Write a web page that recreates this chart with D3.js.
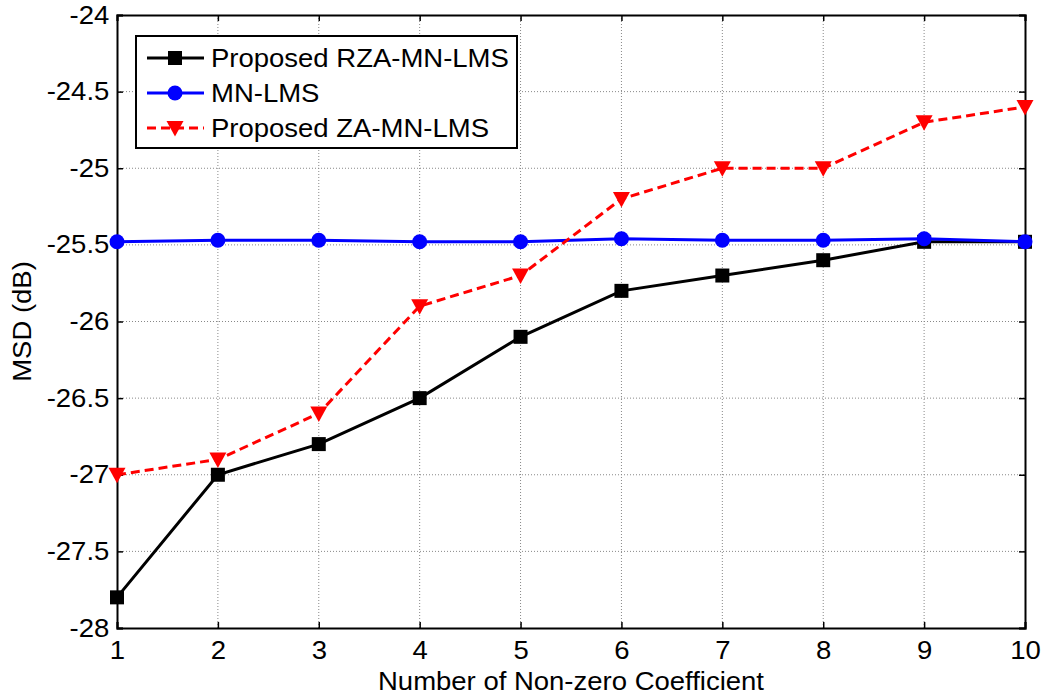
<!DOCTYPE html>
<html>
<head>
<meta charset="utf-8">
<script src="https://cdn.jsdelivr.net/npm/d3@7"></script>
<style>
  html, body { margin: 0; padding: 0; background: #fff; }
  svg { display: block; }
  text { font-family: "Liberation Sans", Arial, sans-serif; fill: #000; }
</style>
</head>
<body>
<svg id="chart" width="1050" height="698"></svg>
<script>
// Number of non-zero coefficients (x axis)
const coeffs = [1, 2, 3, 4, 5, 6, 7, 8, 9, 10];
// MSD (dB) for each algorithm
const rzaMnLms = [-27.8, -27.0, -26.8, -26.5, -26.1, -25.8, -25.7, -25.6, -25.48, -25.48];
const mnLms    = [-25.48, -25.47, -25.47, -25.48, -25.48, -25.46, -25.47, -25.47, -25.46, -25.48];
const zaMnLms  = [-27.0, -26.9, -26.6, -25.9, -25.7, -25.2, -25.0, -25.0, -24.7, -24.6];
// Tick values
const xTicks = [1, 2, 3, 4, 5, 6, 7, 8, 9, 10];
const yTicks = [-28, -27.5, -27, -26.5, -26, -25.5, -25, -24.5, -24];
const seriesNames = ["Proposed RZA-MN-LMS", "MN-LMS", "Proposed ZA-MN-LMS"];

const svg = d3.select("#chart");
const m = { left: 117, right: 1025, top: 15, bottom: 628 };
const FS = 25;          // font size
const SX = 1.1;         // horizontal text stretch

const x = d3.scaleLinear().domain([1, 10]).range([m.left, m.right]);
const y = d3.scaleLinear().domain([-28, -24]).range([m.bottom, m.top]);

// Grid (dotted)
const grid = svg.append("g");
grid.selectAll("line.vx").data(xTicks.slice(1, -1)).join("line")
  .attr("x1", d => x(d)).attr("x2", d => x(d))
  .attr("y1", m.top).attr("y2", m.bottom)
  .attr("stroke", "#888").attr("stroke-width", 1).attr("stroke-dasharray", "1,2");
grid.selectAll("line.hy").data(yTicks.slice(1, -1)).join("line")
  .attr("x1", m.left).attr("x2", m.right)
  .attr("y1", d => y(d)).attr("y2", d => y(d))
  .attr("stroke", "#888").attr("stroke-width", 1).attr("stroke-dasharray", "1,2");

// Axes with inward ticks
const tickLen = 6;
const xAxisB = d3.axisBottom(x).tickValues(xTicks).tickSize(-tickLen).tickPadding(13).tickFormat(d3.format("d"));
const xAxisT = d3.axisTop(x).tickValues(xTicks).tickSize(-tickLen).tickFormat("");
const yAxisL = d3.axisLeft(y).tickValues(yTicks).tickSize(-tickLen).tickPadding(7).tickFormat(d => String(d));
const yAxisR = d3.axisRight(y).tickValues(yTicks).tickSize(-tickLen).tickFormat("");

function styleAxis(g) {
  g.select(".domain").attr("stroke", "#000").attr("stroke-width", 2);
  g.selectAll(".tick line").attr("stroke", "#000").attr("stroke-width", 1.5);
  g.selectAll(".tick text").attr("font-size", FS)
    .attr("font-family", "Liberation Sans, Arial, sans-serif").attr("fill", "#000")
    .attr("transform", `scale(${SX},1)`);
}
svg.append("g").attr("transform", `translate(0,${m.bottom})`).call(xAxisB).call(styleAxis);
svg.append("g").attr("transform", `translate(0,${m.top})`).call(xAxisT).call(styleAxis);
svg.append("g").attr("transform", `translate(${m.left},0)`).call(yAxisL).call(styleAxis);
svg.append("g").attr("transform", `translate(${m.right},0)`).call(yAxisR).call(styleAxis);

// Axis titles
svg.append("text").attr("transform", `translate(${(m.left + m.right) / 2},690) scale(${SX},1)`)
  .attr("text-anchor", "middle").attr("font-size", FS).text("Number of Non-zero Coefficient");
svg.append("text").attr("transform", `translate(31,${(m.top + m.bottom) / 2}) rotate(-90) scale(${SX},1)`)
  .attr("text-anchor", "middle").attr("font-size", FS).text("MSD (dB)");

const line = d3.line().x((d, i) => x(coeffs[i])).y(d => y(d));
const plot = svg.append("g");

const series = [
  { name: seriesNames[0], values: rzaMnLms, color: "#000", dash: null, marker: "square" },
  { name: seriesNames[1], values: mnLms, color: "#0000ff", dash: null, marker: "circle" },
  { name: seriesNames[2], values: zaMnLms, color: "#ff0000", dash: "9,5", marker: "triangle" }
];

function drawMarker(g, type, color, cx, cy) {
  if (type === "square") {
    g.append("rect").attr("x", cx - 7).attr("y", cy - 7).attr("width", 14).attr("height", 14).attr("fill", color);
  } else if (type === "circle") {
    g.append("circle").attr("cx", cx).attr("cy", cy).attr("r", 7.5).attr("fill", color);
  } else {
    g.append("path").attr("d", `M${cx - 8.5},${cy - 7}L${cx + 8.5},${cy - 7}L${cx},${cy + 8.5}Z`).attr("fill", color);
  }
}

// Black series first, then blue, then red on top
series.forEach(s => {
  plot.append("path").datum(s.values).attr("d", line)
    .attr("fill", "none").attr("stroke", s.color).attr("stroke-width", 3)
    .attr("stroke-dasharray", s.dash);
  const mg = plot.append("g");
  s.values.forEach((v, i) => drawMarker(mg, s.marker, s.color, x(coeffs[i]), y(v)));
});

// Legend
const lg = svg.append("g");
lg.append("rect").attr("x", 136).attr("y", 36).attr("width", 381).attr("height", 112)
  .attr("fill", "#fff").attr("stroke", "#000").attr("stroke-width", 2);
series.forEach((s, i) => {
  const cy = 58 + i * 35;
  lg.append("line").attr("x1", 147).attr("x2", 204).attr("y1", cy).attr("y2", cy)
    .attr("stroke", s.color).attr("stroke-width", 3).attr("stroke-dasharray", s.dash);
  drawMarker(lg, s.marker, s.color, 175, cy);
  lg.append("text").attr("transform", `translate(211,${cy + 9}) scale(${SX},1)`)
    .attr("font-size", FS).text(s.name);
});
</script>
</body>
</html>
